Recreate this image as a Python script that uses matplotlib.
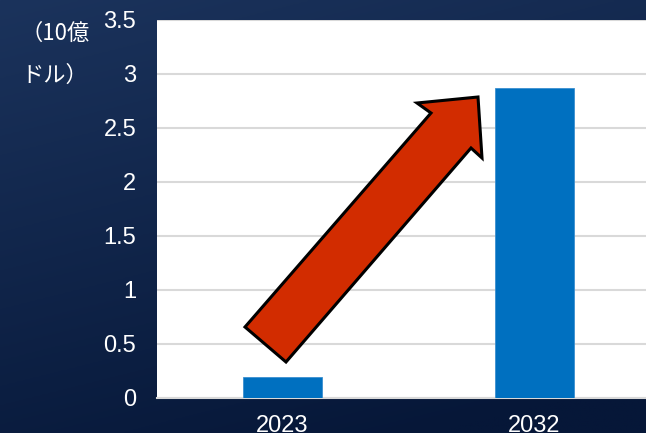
import numpy as np
import matplotlib
matplotlib.use("Agg")
import matplotlib.pyplot as plt
from matplotlib.patches import Polygon

categories = ["2023", "2032"]
values = [0.19, 2.87]
yticks = [0, 0.5, 1, 1.5, 2, 2.5, 3, 3.5]
ytick_labels = ["0", "0.5", "1", "1.5", "2", "2.5", "3", "3.5"]

W, H = 646, 433
fig = plt.figure(figsize=(W / 100, H / 100), dpi=100)

# background gradient
bg = fig.add_axes([0, 0, 1, 1])
yy, xx = np.mgrid[0:1:200j, 0:1:300j]
c_top = np.array([0x1b, 0x33, 0x5c]) / 255
c_bot = np.array([0x06, 0x17, 0x38]) / 255
t = np.clip(yy * 0.8 + xx * 0.3, 0, 1)[..., None]
img = c_top * (1 - t) + c_bot * t
bg.imshow(img, extent=[0, 1, 0, 1], aspect="auto", origin="upper")
bg.axis("off")

ax = fig.add_axes([157 / W, 1 - 398 / H, 1 - 157 / W, (398 - 20) / H])
ax.set_facecolor("white")
x = np.arange(len(categories))
ax.bar(x, values, width=0.313, color="#0070c0", edgecolor="#3a8fd0", linewidth=0.6, zorder=3)
ax.set_xlim(-0.498, 1.442)
ax.set_ylim(0, 3.5)
ax.set_yticks(yticks)
ax.set_yticklabels(ytick_labels)
ax.set_xticks(x)
ax.set_xticklabels(categories)
ax.grid(axis="y", color="#d9d9d9", linewidth=1.5, zorder=0)
for s in ["top", "right", "left"]:
    ax.spines[s].set_visible(False)
ax.spines["bottom"].set_color("#d9d9d9")
ax.spines["bottom"].set_linewidth(1.5)
ax.tick_params(axis="y", length=0, pad=15, labelsize=17, labelcolor="white")
ax.tick_params(axis="x", length=0, pad=12.5, labelsize=17, labelcolor="white")
for lab in ax.get_xticklabels() + ax.get_yticklabels():
    lab.set_fontfamily(["Liberation Sans", "DejaVu Sans"])

fam = ["Noto Sans CJK JP", "DejaVu Sans"]
fig.text(21 / W, 1 - 33 / H, "（10億", color="white", fontsize=16, family=fam, va="center", ha="left")
fig.text(21 / W, 1 - 75 / H, "ドル）", color="white", fontsize=16, family=fam, va="center", ha="left")

# arrow decoration (pixel coords)
pts = [(245, 327), (431, 113), (417, 103), (478, 97), (482, 158), (471, 148), (286, 362)]
pts_f = [(px / W, 1 - py / H) for px, py in pts]
arrow = Polygon(pts_f, closed=True, transform=fig.transFigure, facecolor="#d22c00",
                edgecolor="black", linewidth=2.2, joinstyle="miter", zorder=10)
fig.patches.append(arrow)

fig.savefig("out.png", dpi=100)
